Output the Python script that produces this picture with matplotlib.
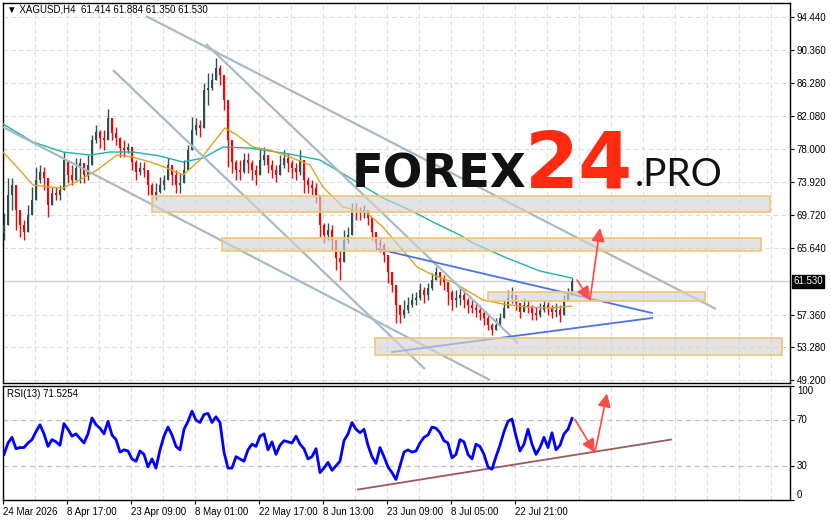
import numpy as np
import matplotlib.pyplot as plt
from matplotlib.patches import Rectangle, FancyArrowPatch

plt.rcParams['font.family'] = ['Liberation Sans', 'DejaVu Sans']

# --- price data (H4 bars) ---
first_open = 67.50
closes = [68.52, 72.26, 73.50, 70.39, 68.52, 67.65, 69.76, 71.63, 74.13, 75.12,
          74.38, 71.01, 72.51, 72.26, 72.88, 76.62, 74.75, 74.13, 75.62, 76.25,
          74.75, 76.00, 79.11, 80.11, 79.36, 79.11, 81.85, 79.98, 79.36, 78.11,
          77.86, 78.24, 76.37, 75.12, 75.62, 75.37, 73.50, 72.26, 72.63, 73.50,
          74.13, 76.00, 74.75, 73.50, 73.75, 75.37, 77.86, 80.36, 80.98, 80.61,
          85.34, 85.59, 86.59, 88.08, 87.21, 84.10, 79.11, 76.37, 75.37, 75.12,
          76.62, 76.25, 75.37, 74.75, 76.62, 77.24, 76.00, 75.37, 74.75, 76.00,
          76.87, 76.25, 75.62, 75.12, 76.62, 74.13, 73.50, 73.13, 72.26, 68.52,
          67.27, 67.89, 66.65, 64.40, 63.91, 66.65, 67.27, 70.39, 70.14, 70.01,
          70.39, 69.39, 67.65, 66.27, 66.03, 64.78, 62.66, 61.04, 58.55, 57.30,
          57.92, 58.55, 59.17, 59.42, 60.42, 59.79, 60.67, 61.66, 62.66, 61.91,
          61.41, 60.17, 59.17, 59.42, 59.79, 59.17, 58.55, 58.17, 57.92, 57.55,
          56.93, 56.05, 55.43, 56.05, 56.93, 58.17, 59.42, 59.79, 58.80, 57.68,
          58.55, 58.30, 57.55, 57.30, 57.92, 58.55, 58.17, 57.68, 57.92, 57.30,
          59.17, 60.04, 61.53]
highs = [70.01, 74.38, 74.38, 71.63, 69.51, 69.14, 71.01, 73.25, 75.75, 76.00,
         75.75, 73.25, 73.25, 73.25, 73.50, 77.62, 76.62, 76.00, 76.87, 76.87,
         75.75, 77.24, 79.73, 80.98, 80.36, 80.36, 82.97, 80.73, 80.73, 79.48,
         79.11, 78.74, 77.49, 76.62, 76.37, 76.37, 74.38, 73.75, 73.75, 74.50,
         74.75, 76.87, 75.75, 75.37, 75.00, 76.62, 78.49, 81.98, 81.85, 81.60,
         86.22, 87.46, 87.46, 89.33, 88.46, 85.97, 81.98, 77.86, 76.62, 76.62,
         77.49, 77.49, 76.62, 76.00, 78.11, 78.24, 76.99, 76.62, 76.00, 77.24,
         77.86, 77.49, 76.62, 76.25, 77.86, 75.37, 74.50, 74.13, 73.75, 70.01,
         68.77, 68.77, 68.52, 65.78, 65.40, 67.89, 68.27, 71.26, 71.26, 70.76,
         71.01, 70.39, 69.51, 67.02, 67.02, 66.27, 64.16, 62.04, 59.54, 58.55,
         59.17, 59.54, 60.04, 60.17, 61.29, 60.79, 61.29, 62.54, 63.28, 62.66,
         62.29, 61.29, 60.42, 60.42, 60.67, 60.42, 59.42, 59.17, 58.80, 58.55,
         57.92, 57.30, 56.30, 56.93, 57.55, 59.17, 60.42, 60.79, 59.54, 58.55,
         59.42, 59.17, 58.55, 58.30, 58.80, 59.17, 58.92, 58.55, 58.80, 58.55,
         59.79, 60.67, 61.88]
lows = [66.65, 69.51, 70.39, 67.89, 67.02, 66.65, 67.89, 69.76, 72.88, 73.75,
        72.88, 69.51, 71.01, 71.63, 71.63, 74.50, 73.75, 73.50, 74.13, 73.75,
        73.75, 74.13, 76.99, 78.74, 78.11, 77.86, 79.48, 79.11, 78.49, 76.99,
        76.99, 77.49, 75.37, 74.13, 74.75, 74.50, 72.26, 70.76, 71.63, 72.51,
        72.88, 75.00, 73.50, 72.51, 72.51, 74.13, 76.00, 79.11, 79.73, 79.48,
        83.22, 83.47, 85.34, 86.96, 85.97, 82.85, 75.75, 75.00, 74.13, 74.13,
        75.00, 75.00, 74.13, 73.50, 75.12, 76.00, 75.00, 74.38, 73.88, 74.75,
        75.62, 75.12, 74.38, 74.13, 74.75, 72.51, 72.51, 72.26, 71.26, 67.02,
        66.27, 66.65, 65.40, 62.91, 61.66, 65.40, 66.27, 69.51, 69.14, 69.14,
        69.39, 68.52, 66.65, 65.40, 65.15, 63.91, 61.29, 60.17, 56.30, 56.30,
        56.93, 57.55, 58.30, 58.55, 59.17, 58.80, 59.17, 60.42, 61.66, 61.04,
        60.42, 58.55, 57.92, 58.30, 58.55, 58.17, 57.55, 57.55, 57.05, 56.68,
        56.05, 55.43, 54.81, 55.43, 56.30, 57.30, 58.30, 58.80, 57.92, 56.93,
        57.92, 57.55, 56.68, 56.68, 57.05, 57.68, 57.30, 56.93, 57.05, 56.43,
        57.92, 59.17, 61.35]

# RSI(13), one value per bar
rsi = [40, 50, 55, 45, 46, 46, 50, 53, 60, 66, 58, 47, 53, 51, 48, 67, 62, 56, 58, 54,
       50, 58, 72, 66, 63, 58, 69, 57, 53, 42, 44, 43, 36, 34, 43, 40, 29, 36, 28, 44,
       56, 64, 57, 47, 44, 62, 69, 78, 70, 68, 75, 76, 68, 73, 68, 42, 28, 28, 38, 36,
       34, 44, 49, 47, 56, 58, 44, 51, 40, 48, 52, 51, 50, 56, 49, 45, 36, 38, 45, 24,
       28, 33, 26, 30, 34, 52, 58, 68, 62, 59, 62, 48, 38, 32, 46, 38, 29, 24, 18, 30,
       42, 44, 42, 43, 50, 55, 57, 64, 63, 59, 52, 50, 37, 40, 53, 51, 40, 36, 49, 47,
       40, 29, 27, 38, 48, 60, 69, 71, 56, 43, 49, 62, 49, 40, 46, 55, 46, 59, 44, 48,
       58, 62, 71.53]

# moving averages, sampled along the chart (bar position, price)
ma_slow_x = [-0.25, 7.25, 14.75, 21.5, 26.5, 32.25, 39, 44.75, 49.75, 54.75, 61.5,
             69.75, 74, 79, 86.5, 94.75, 101.5, 107.25, 114, 117.25, 125.75, 134, 142]
ma_slow = [81.11, 78.86, 77.62, 77.24, 77.62, 77.62, 77.12, 76.37, 76.87, 78.24, 78.11,
           77.49, 77.12, 76.62, 74.38, 71.88, 70.39, 68.89, 67.27, 66.27, 64.40, 62.78, 61.91]
ma_fast_x = [-0.25, 3.25, 7.25, 11.5, 14.75, 19, 23.25, 28.25, 32.25, 36.5, 40.75,
             44.75, 49, 52.25, 55.25, 58.25, 62.25, 66.5, 71.5, 76.5, 79.75, 84.75,
             90.75, 94.75, 99, 103.25, 107.25, 112.25, 119.75, 124.75, 130.75, 136.5, 142]
ma_fast = [77.62, 75.75, 73.50, 73.25, 73.13, 74.13, 75.37, 77.24, 76.99, 76.37, 75.62,
           74.75, 76.62, 78.74, 80.61, 79.73, 78.24, 77.86, 76.99, 76.00, 73.25, 70.76,
           70.01, 68.27, 65.78, 63.28, 62.29, 61.41, 59.17, 58.67, 58.30, 58.17, 58.42]

# drawn objects: channel lines, triangle, zones, forecast arrows
channel_lines = [((35.5, 94.56), (178, 58.05)),
                 ((50.5, 91.08), (128.5, 53.81)),
                 ((27.25, 87.83), (105.25, 50.57)),
                 ((-0.25, 80.73), (121.5, 49.20))]
triangle_lines = [((93.5, 65.53), (162, 57.55)),
                  ((97, 52.69), (162, 56.93))]
zones = [(37, 191.5, 70.14, 72.13),
         (54.5, 189.25, 65.28, 66.90),
         (121, 175.25, 59.05, 60.17),
         (92.75, 194.5, 52.32, 54.43)]
price_arrows = [((143.25, 61.66), (146.5, 59.17)),
                ((146.5, 59.17), (149, 68.14))]
rsi_trend = ((88.5, 9.2), (166.75, 53.0))
rsi_arrows = [((142.75, 70.6), (147.75, 41.7)),
              ((147.75, 41.7), (150.75, 93.4))]

price_ticks = [94.44, 90.36, 86.28, 82.08, 78.00, 73.92, 69.72, 65.64, 57.36, 53.28, 49.20]
date_ticks = [-0.25 + 16 * k for k in range(9)]
date_labels = ['24 Mar 2026', '8 Apr 17:00', '23 Apr 09:00', '8 May 01:00',
               '22 May 17:00', '8 Jun 13:00', '23 Jun 09:00', '8 Jul 05:00',
               '22 Jul 21:00']
last_price = 61.53

W, H = 831, 521
fig = plt.figure(figsize=(W / 100, H / 100), dpi=100)
fig.patch.set_facecolor('white')


def px_rect(x0, y0, x1, y1):
    return [x0 / W, 1 - y1 / H, (x1 - x0) / W, (y1 - y0) / H]


ax = fig.add_axes(px_rect(3, 3, 790, 383))
ax2 = fig.add_axes(px_rect(3, 386, 790, 500))
xlim = (-0.25, 196.5)

grid_kw = dict(color='#dcdcdc', linestyle=(0, (4, 3)), linewidth=0.8, zorder=0)
grid_x = [-0.25 + 8 * k for k in range(1, 25)]
for a in (ax, ax2):
    a.set_xlim(*xlim)
    for g in grid_x:
        a.axvline(g, **grid_kw)
    for s in a.spines.values():
        s.set_color('black')
        s.set_linewidth(1)

# --- main panel ---
ax.set_ylim(48.83, 96.19)
for p in price_ticks:
    ax.axhline(p, **grid_kw)
ax.axhline(last_price, color='#cfcfcf', linewidth=1, zorder=1)

c = np.array(closes)
o = np.r_[first_open, c[:-1]]
hi = np.maximum(np.array(highs), np.maximum(o, c))
lo = np.minimum(np.array(lows), np.minimum(o, c))
x = np.arange(len(c))
up = c >= o
colors = np.where(up, '#2f4f4f', '#ff0000')
ax.vlines(x, lo, hi, colors=colors, linewidth=1, zorder=3)
body = np.maximum(np.abs(c - o), 0.12)
ax.bar(x, body, bottom=np.minimum(o, c), width=0.62, color=colors, zorder=3, linewidth=0)

ax.plot(ma_slow_x, ma_slow, color='#20b2aa', linewidth=1, zorder=4)
ax.plot(ma_fast_x, ma_fast, color='#daa520', linewidth=1, zorder=4)

for (x0, y0), (x1, y1) in channel_lines:
    ax.plot([x0, x1], [y0, y1], color='#a8bac6', linewidth=1.6, zorder=5,
            solid_capstyle='butt')
for (x0, y0), (x1, y1) in triangle_lines:
    ax.plot([x0, x1], [y0, y1], color='#4a74e8', linewidth=1.3, zorder=5)

for x0, x1, y0, y1 in zones:
    ax.add_patch(Rectangle((x0, y0), x1 - x0, y1 - y0, facecolor='#d4d4d4',
                           alpha=0.65, edgecolor='none', zorder=6))
    ax.add_patch(Rectangle((x0, y0), x1 - x0, y1 - y0, facecolor='none',
                           edgecolor='#f2c674', linewidth=1.2, zorder=6))

arrow_style = '-|>,head_length=8,head_width=4'
for (x0, y0), (x1, y1) in price_arrows:
    ax.add_patch(FancyArrowPatch((x0, y0), (x1, y1), arrowstyle=arrow_style,
                                 color='#ff4a4a', linewidth=1.2, zorder=7,
                                 shrinkA=0, shrinkB=0))

ax.yaxis.tick_right()
ax.set_yticks(price_ticks, [f'{p:.3f}' for p in price_ticks])
ax.tick_params(axis='y', labelsize=7, length=3, width=0.8, pad=2, colors='black')
ax.set_xticks([])
ax.text(1.004, last_price, f'{last_price:.3f}', transform=ax.get_yaxis_transform(),
        fontsize=7, color='white', va='center', ha='left', zorder=10,
        bbox=dict(boxstyle='square,pad=0.15', facecolor='black', edgecolor='black'))

ax.text(0.005, 0.983, '\u25bc XAGUSD,H4  61.414 61.884 61.350 61.530', transform=ax.transAxes,
        fontsize=7, va='center', ha='left', family=['Liberation Sans', 'DejaVu Sans'])

# logo
fig.text(352 / W, 1 - 187 / H, 'FOREX', fontsize=33.5, fontweight='bold', color='#111111',
         family=['DejaVu Sans'], va='baseline', ha='left', zorder=20)
fig.text(525 / W, 1 - 187 / H, '24', fontsize=56, fontweight='bold', color='#ff2a12',
         family=['DejaVu Sans'], va='baseline', ha='left', zorder=20)
fig.text(635 / W, 1 - 186 / H, '.PRO', fontsize=28, fontweight='normal', color='#111111',
         family=['Lato', 'DejaVu Sans'], va='baseline', ha='left', zorder=20)

# --- RSI panel ---
ax2.set_ylim(0, 100)
for lvl in (70, 30):
    ax2.axhline(lvl, color='#c0c0c0', linestyle=(0, (4, 3)), linewidth=0.9, zorder=1)
ax2.plot(x, rsi, color='#0000ff', linewidth=2, zorder=4)
(tx0, ty0), (tx1, ty1) = rsi_trend
ax2.plot([tx0, tx1], [ty0, ty1], color='#9b5a5a', linewidth=1.3, zorder=3)
for (x0, y0), (x1, y1) in rsi_arrows:
    ax2.add_patch(FancyArrowPatch((x0, y0), (x1, y1), arrowstyle=arrow_style,
                                  color='#ff4a4a', linewidth=1.2, zorder=7,
                                  shrinkA=0, shrinkB=0))
ax2.text(0.005, 0.93, 'RSI(13) 71.5254', transform=ax2.transAxes, fontsize=7,
         va='center', ha='left')

ax2.yaxis.tick_right()
ax2.set_yticks([100, 70, 30, 0], ['100', '70', '30', '0'])
for lab, va in zip(ax2.get_yticklabels(), ['top', 'center', 'center', 'bottom']):
    lab.set_va(va)
ax2.tick_params(axis='y', labelsize=7, length=3, width=0.8, pad=2)
ax2.set_xticks(date_ticks, date_labels)
for lab in ax2.get_xticklabels():
    lab.set_ha('left')
ax2.tick_params(axis='x', labelsize=7, length=3, width=0.8, pad=2)

fig.savefig('out.png', dpi=100, facecolor='white')
